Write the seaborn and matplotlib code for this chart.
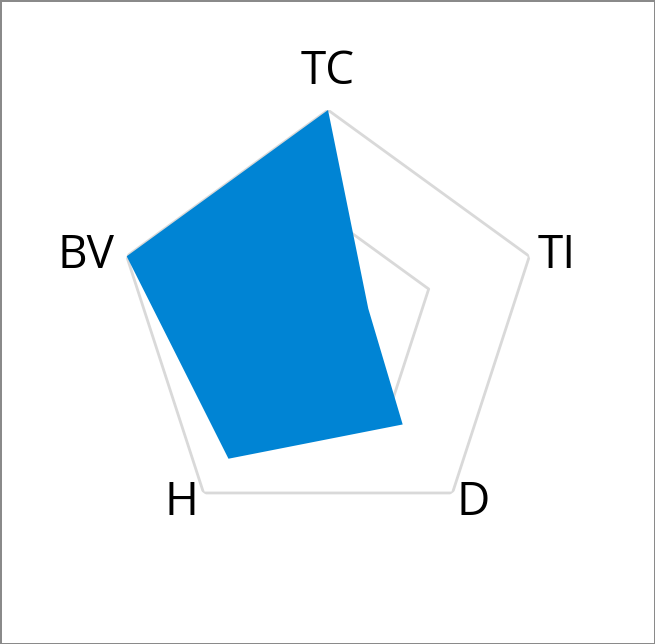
import numpy as np
import matplotlib
matplotlib.use('Agg')
import matplotlib.pyplot as plt
import seaborn as sns

# axis categories, clockwise from the top
categories = ['TC', 'TI', 'D', 'H', 'BV']
scores = [5, 1, 3, 4, 5]
grid_levels = [2.5, 5]
r_max = 5

# label offsets in points (dx, dy) from the outer vertex to the text baseline centre
label_offsets = {'TC': (0, 18.5), 'TI': (20, -8.5), 'D': (15, -16), 'H': (-16, -16), 'BV': (-29, -8.5)}


def make_radar(cats, vals):
    sns.set_style('white')
    plt.rcParams['font.family'] = ['Open Sans', 'DejaVu Sans']

    fig = plt.figure(figsize=(6.55, 6.44), dpi=100, linewidth=2, edgecolor='#8a8a8a')
    ax = fig.add_axes([0.1776, 0.1717, 0.6464, 0.6575], projection='polar')
    ax.set_theta_offset(np.pi / 2)
    ax.set_theta_direction(-1)

    angles = np.linspace(0, 2 * np.pi, len(cats), endpoint=False)
    closed = np.append(angles, angles[0])

    # pentagon grid instead of the default circles
    for level in grid_levels:
        ax.plot(closed, [level] * len(closed), color='#d9d9d9', lw=2, zorder=1)

    ax.fill(closed, np.append(vals, vals[0]), color='#0084d4', lw=0, zorder=2)

    for ang, name in zip(angles, cats):
        ax.annotate(name, xy=(ang, r_max), xytext=label_offsets[name], textcoords='offset points',
                    ha='center', va='baseline', fontsize=33, color='black')

    ax.set_ylim(0, r_max)
    ax.set_xticks([])
    ax.set_yticks([])
    ax.grid(False)
    ax.spines['polar'].set_visible(False)
    ax.patch.set_alpha(0)

    fig.savefig('out.png', dpi=100)


if __name__ == '__main__':
    make_radar(categories, scores)
